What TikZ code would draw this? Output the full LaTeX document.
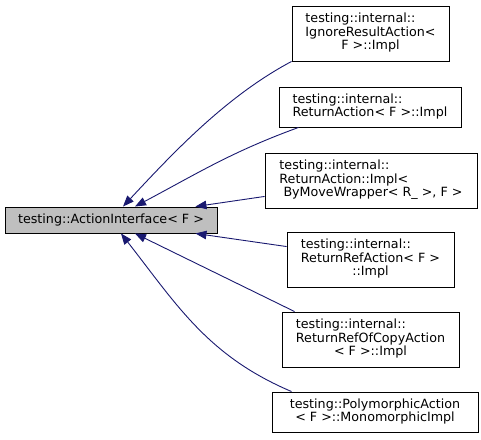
\documentclass[tikz,border=0pt]{standalone}
\usepackage{fontspec}
\setmainfont{DejaVu Sans}
\usetikzlibrary{arrows.meta}
\definecolor{edgeblue}{HTML}{191970}
\definecolor{basegray}{HTML}{BFBFBF}
\newcommand{\lastline}[1]{\multicolumn{1}{@{}c@{}}{#1}}
\begin{document}
\begin{tikzpicture}[x=1pt,y=1pt,
        cls/.style={draw=black, line width=0.9pt, fill=white, inner sep=0pt,
                font=\fontsize{12.7}{13.3}\selectfont},
        dep/.style={draw=edgeblue, line width=0.9pt,
                -{Triangle[length=11pt,width=8.5pt]}}]
        \useasboundingbox (0,0) rectangle (481,439);
        \node[cls, fill=basegray, minimum width=212, minimum height=26] (base) at (111,219) {testing::ActionInterface< F >};
        \node[cls, minimum width=157, minimum height=55] (ignore) at (370.5,405.5)
                {\begin{tabular}{@{}l@{}}testing::internal::\\ IgnoreResultAction<\\ \lastline{F >::Impl}\end{tabular}};
        \node[cls, minimum width=182, minimum height=40] (ret) at (370,332)
                {\begin{tabular}{@{}l@{}}testing::internal::\\ ReturnAction< F >::Impl\end{tabular}};
        \node[cls, minimum width=212, minimum height=55] (bymove) at (371,258.5)
                {\begin{tabular}{@{}l@{}}testing::internal::\\ ReturnAction::Impl<\\ \ ByMoveWrapper< R\_ >, F >\end{tabular}};
        \node[cls, minimum width=167, minimum height=55] (retref) at (370.5,179.5)
                {\begin{tabular}{@{}l@{}}testing::internal::\\ ReturnRefAction< F >\\ \lastline{::Impl}\end{tabular}};
        \node[cls, minimum width=177, minimum height=55] (retcopy) at (370.5,99.5)
                {\begin{tabular}{@{}l@{}}testing::internal::\\ ReturnRefOfCopyAction\\ \lastline{< F >::Impl}\end{tabular}};
        \node[cls, minimum width=206, minimum height=40] (poly) at (375,27)
                {\begin{tabular}{@{}c@{}}testing::PolymorphicAction\\ < F >::MonomorphicImpl\end{tabular}};
        % inheritance edges
        \draw[dep] (ignore.south west) to[out=208,in=47,looseness=0.85] ([xshift=12]base.north);
        \draw[dep] ([xshift=20]ret.south west) to[out=200,in=28] ([xshift=24]base.north);
        \draw[dep] ([yshift=12]bymove.south west) -- ([xshift=-22]base.north east);
        \draw[dep] ([yshift=-15]retref.north west) -- ([xshift=-22]base.south east);
        \draw[dep] ([xshift=13]retcopy.north west) -- ([xshift=24]base.south);
        \draw[dep] ([xshift=20]poly.north west) to[out=157,in=-52] ([xshift=10]base.south);
\end{tikzpicture}
\end{document}
